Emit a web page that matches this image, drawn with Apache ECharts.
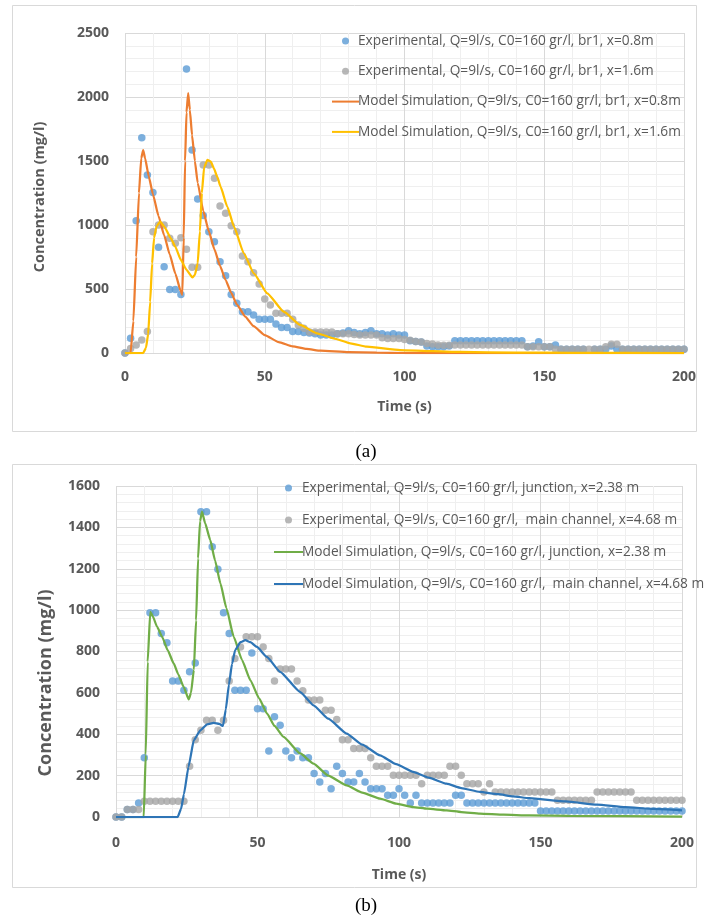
<!DOCTYPE html>
<html>
<head>
<meta charset="utf-8">
<script src="https://cdn.jsdelivr.net/npm/echarts@6/dist/echarts.min.js"></script>
<style>
  html, body { margin: 0; padding: 0; background: #fff; }
  #myChart { width: 707px; height: 920px; }
</style>
</head>
<body>
<div id="myChart"></div>
<script>
// sample times of the measurements (s), same for all four experimental series
const sampleTimes = [
  0, 2, 4, 6, 8, 10, 12, 14, 16, 18,
  20, 22, 24, 26, 28, 30, 32, 34, 36, 38,
  40, 42, 44, 46, 48, 50, 52, 54, 56, 58,
  60, 62, 64, 66, 68, 70, 72, 74, 76, 78,
  80, 82, 84, 86, 88, 90, 92, 94, 96, 98,
  100, 102, 104, 106, 108, 110, 112, 114, 116, 118,
  120, 122, 124, 126, 128, 130, 132, 134, 136, 138,
  140, 142, 144, 146, 148, 150, 152, 154, 156, 158,
  160, 162, 164, 166, 168, 170, 172, 174, 176, 178,
  180, 182, 184, 186, 188, 190, 192, 194, 196, 198,
  200
]

// (a) experimental, br1, x=0.8m
const expBr1X08 = [
  0, 115, 1034, 1682, 1390, 1253, 826, 674, 497, 497,
  458, 2219, 1586, 1203, 1075, 948, 870, 713, 604, 458,
  388, 323, 323, 297, 263, 263, 263, 227, 200, 200,
  167, 167, 160, 156, 150, 140, 140, 140, 150, 156,
  174, 160, 150, 160, 174, 150, 150, 140, 150, 140,
  140, 95, 90, 86, 55, 49, 49, 49, 55, 96,
  96, 96, 96, 96, 96, 96, 96, 96, 96, 96,
  96, 96, 49, 55, 88, 49, 49, 62, 29, 29,
  29, 29, 29, -16, 29, 29, 29, 55, 29, 29,
  29, 29, 29, 29, 29, 29, 29, 29, 29, 29,
  29
]
// (a) experimental, br1, x=1.6m
const expBr1X16 = [
  0, 36, 62, 101, 167, 948, 1000, 1000, 896, 857,
  901, 810, 669, 669, 1469, 1469, 1365, 1148, 1091, 995,
  948, 758, 713, 627, 539, 422, 375, 310, 310, 310,
  263, 219, 193, 164, 164, 164, 164, 164, 150, 150,
  150, 145, 140, 140, 140, 140, 120, 114, 114, 114,
  105, 100, 90, 86, 75, 70, 62, 60, 60, 62,
  62, 62, 62, 62, 62, 62, 62, 62, 62, 62,
  62, 62, 49, 49, 49, 49, 49, 29, 29, 29,
  29, 29, 29, 29, 29, 29, 49, 68, 68, 29,
  29, 29, 29, 29, 29, 29, 29, 29, 29, 29,
  29
]
// (a) model curves [t, c]
const modelBr1X08 = [
  [0, 0], [2, 0], [3, 250], [4, 750], [5, 1250], [5.8, 1520], [6.5, 1585], [7.2, 1520],
  [8.5, 1380], [10, 1240], [12, 1070], [14, 920], [16, 770], [18, 620], [20, 480], [20.5, 455],
  [21, 900], [21.5, 1500], [22, 1880], [22.6, 2030], [23.2, 1900], [24, 1700], [25, 1500],
  [26, 1330], [28, 1110], [30, 950], [32, 810], [34, 680], [36, 570], [38, 470], [40, 380],
  [43, 285], [46, 210], [50, 140], [55, 85], [60, 52], [65, 32], [70, 18], [80, 6], [90, 2],
  [100, 0], [200, 0]
]
const modelBr1X16 = [
  [0, 0], [6.5, 0], [7.5, 40], [8.3, 150], [9, 400], [9.7, 700], [10.4, 900], [11.3, 990],
  [12.6, 1026], [14, 990], [16.4, 896], [18, 830], [20, 727], [22, 650], [24.1, 591], [25, 610],
  [26, 700], [26.8, 950], [27.5, 1250], [28.3, 1450], [29.5, 1508], [30.7, 1495], [31.8, 1443],
  [33, 1377], [34.2, 1299], [36.6, 1143], [39, 987], [42.5, 779], [46.1, 622], [50.9, 466],
  [56.8, 323], [62.7, 219], [68.7, 154], [74.6, 115], [80.6, 76], [86.5, 49], [98.4, 23],
  [110, 14], [120, 8], [140, 3], [160, 1], [200, 0]
]

// (b) experimental, junction x=2.38 m
const expJunction = [
  0, 0, 36, 36, 68, 287, 987, 987, 887, 842,
  657, 657, 613, 702, 745, 1476, 1476, 1306, 1197, 987,
  887, 613, 613, 613, 793, 523, 523, 319, 484, 444,
  319, 287, 319, 287, 287, 210, 169, 210, 137, 245,
  210, 169, 169, 210, 169, 137, 137, 137, 105, 105,
  137, 105, 68, 105, 68, 68, 68, 68, 68, 68,
  105, 105, 68, 68, 68, 68, 68, 68, 68, 68,
  68, 68, 68, 68, 68, 29, 29, 29, 29, 29,
  29, 29, 29, 29, 29, 29, 29, 29, 29, 29,
  29, 29, 29, 29, 29, 29, 29, 29, 29, 29,
  29
]
// (b) experimental, main channel x=4.68 m
const expMainChannel = [
  0, 0, 36, 36, 36, 76, 76, 76, 76, 76,
  76, 76, 76, 245, 374, 419, 468, 468, 419, 468,
  658, 766, 822, 871, 871, 871, 822, 766, 658, 715,
  715, 715, 658, 610, 565, 565, 565, 516, 516, 471,
  374, 374, 331, 331, 331, 287, 245, 245, 245, 202,
  202, 202, 202, 202, 161, 202, 202, 202, 202, 245,
  245, 202, 161, 161, 161, 121, 161, 121, 121, 121,
  121, 121, 121, 121, 121, 121, 121, 121, 81, 81,
  81, 81, 81, 81, 81, 121, 121, 121, 121, 121,
  121, 121, 81, 81, 81, 81, 81, 81, 81, 81,
  81
]
// (b) model curves [t, c]
const modelJunction = [
  [0, 0], [9.8, 0], [10.5, 300], [11.2, 750], [12.1, 992], [13, 970], [14.5, 920], [16.3, 871],
  [18.3, 805], [20.4, 742], [22, 690], [23.9, 629], [25.7, 568], [26.5, 600], [27.5, 710],
  [28.3, 950], [29, 1250], [29.7, 1430], [30.4, 1476], [31.5, 1420], [33.3, 1339], [35, 1240],
  [36.9, 1129], [39, 1010], [41.6, 871], [44.5, 760], [47.5, 661], [50.5, 575], [53.4, 500],
  [56, 440], [59.2, 387], [65.1, 307], [69.8, 258], [75, 200], [81.5, 153], [87, 118],
  [93.3, 89], [99, 65], [105, 48], [110, 40], [116.8, 32], [122, 24], [128.6, 16], [137, 11],
  [146, 8], [160, 5], [200, 2]
]
const modelMainChannel = [
  [0, 0], [21.8, 0], [23, 40], [24, 110], [25.6, 242], [27.5, 371], [29.8, 419], [32.2, 448],
  [34.5, 455], [36.5, 450], [37.8, 440], [38.8, 520], [39.9, 640], [41, 740], [42.1, 807],
  [44, 845], [45.7, 855], [47.5, 845], [49.8, 822], [53.3, 774], [58, 702], [65, 605],
  [69.8, 540], [75, 475], [81.5, 403], [87, 350], [93.3, 298], [99, 255], [105, 218],
  [110.5, 190], [116.8, 161], [122, 140], [128.6, 121], [135, 110], [140.3, 100], [146, 91],
  [159, 75], [170, 60], [180, 48], [190, 39], [200, 32]
]

const namesA = [
  'Experimental, Q=9l/s, C0=160 gr/l, br1, x=0.8m',
  'Experimental, Q=9l/s, C0=160 gr/l, br1, x=1.6m',
  'Model Simulation, Q=9l/s, C0=160 gr/l, br1, x=0.8m',
  'Model Simulation, Q=9l/s, C0=160 gr/l, br1, x=1.6m'
]
const namesB = [
  'Experimental, Q=9l/s, C0=160 gr/l, junction, x=2.38 m',
  'Experimental, Q=9l/s, C0=160 gr/l,  main channel, x=4.68 m',
  'Model Simulation, Q=9l/s, C0=160 gr/l, junction, x=2.38 m',
  'Model Simulation, Q=9l/s, C0=160 gr/l,  main channel, x=4.68 m'
]

const FONT = 'Open Sans'
const TXT = '#595959'

function pairs(values) {
  return values.map((v, i) => [sampleTimes[i], v])
}

function xAxisOf(grid, gap, labelGap) {
  return {
    gridIndex: grid,
    type: 'value',
    min: 0,
    max: 200,
    interval: 50,
    name: 'Time (s)',
    nameLocation: 'middle',
    nameGap: gap,
    nameTextStyle: { fontFamily: FONT, fontWeight: 'bold', fontSize: 14, color: TXT },
    axisLine: { show: true, lineStyle: { color: '#d9d9d9' } },
    axisTick: { show: false },
    axisLabel: { fontFamily: FONT, fontWeight: 'bold', fontSize: 14, color: TXT, margin: labelGap },
    splitLine: { show: true, lineStyle: { color: '#d9d9d9' } },
    minorTick: { show: false, splitNumber: 5 },
    minorSplitLine: { show: true, lineStyle: { color: '#efefef' } }
  }
}

function yAxisOf(grid, max, step) {
  return {
    gridIndex: grid,
    type: 'value',
    min: 0,
    max: max,
    interval: step,
    axisLine: { show: false },
    axisTick: { show: false },
    axisLabel: {
      fontFamily: FONT, fontWeight: 'bold', fontSize: 14, color: TXT, margin: 16,
      formatter: v => String(v)
    },
    splitLine: { show: true, lineStyle: { color: '#d9d9d9' } },
    minorTick: { show: false, splitNumber: 5 },
    minorSplitLine: { show: true, lineStyle: { color: '#efefef' } }
  }
}

function dots(name, grid, data, color) {
  return {
    name: name, type: 'scatter', xAxisIndex: grid, yAxisIndex: grid,
    data: data, symbol: 'circle', symbolSize: 7.5,
    itemStyle: { color: color }
  }
}

function curve(name, grid, data, color) {
  return {
    name: name, type: 'line', xAxisIndex: grid, yAxisIndex: grid,
    data: data, symbol: 'none', showSymbol: false,
    smooth: 0.15, smoothMonotone: 'x',
    lineStyle: { color: color, width: 2.25 },
    itemStyle: { color: color }
  }
}

// scatter entries show a dot, line entries only the line
function legendOf(names, left, top, width, gap) {
  return {
    orient: 'vertical',
    left: left,
    top: top,
    itemWidth: width,
    itemHeight: 7,
    itemGap: gap,
    selectedMode: false,
    textStyle: { fontFamily: FONT, fontSize: 13.7, color: TXT, padding: [0, 0, 0, -6] },
    data: [
      { name: names[0] },
      { name: names[1] },
      { name: names[2], itemStyle: { opacity: 0 } },
      { name: names[3], itemStyle: { opacity: 0 } }
    ]
  }
}

let myChart = echarts.init(document.getElementById('myChart'), null, { renderer: 'canvas' })

myChart.setOption({
  animation: false,
  backgroundColor: '#fff',
  grid: [
    { left: 125, top: 33, width: 559, height: 320 },
    { left: 116, top: 486, width: 566, height: 331 }
  ],
  xAxis: [xAxisOf(0, 47, 17), xAxisOf(1, 51, 19)],
  yAxis: [yAxisOf(0, 2500, 500), yAxisOf(1, 1600, 200)],
  legend: [
    legendOf(namesA, 326, 29, 27, 16.3),
    legendOf(namesB, 268, 476, 29, 18)
  ],
  graphic: [
    // chart area frames
    { type: 'rect', shape: { x: 12.5, y: 5.5, width: 684, height: 426 }, style: { fill: 'none', stroke: '#d9d9d9', lineWidth: 1 }, silent: true },
    { type: 'rect', shape: { x: 12.5, y: 464.5, width: 684, height: 423 }, style: { fill: 'none', stroke: '#d9d9d9', lineWidth: 1 }, silent: true },
    // y axis titles
    { type: 'text', x: 40, y: 197, rotation: Math.PI / 2,
      style: { text: 'Concentration (mg/l)', fontFamily: FONT, fontWeight: 'bold', fontSize: 14.5, fill: TXT, align: 'center', verticalAlign: 'middle' } },
    { type: 'text', x: 46, y: 683, rotation: Math.PI / 2,
      style: { text: 'Concentration (mg/l)', fontFamily: FONT, fontWeight: 'bold', fontSize: 18, fill: TXT, align: 'center', verticalAlign: 'middle' } },
    // panel captions
    { type: 'text', x: 366, y: 452,
      style: { text: '(a)', fontFamily: 'Liberation Serif', fontSize: 19, fill: '#000', align: 'center', verticalAlign: 'middle' } },
    { type: 'text', x: 366, y: 906,
      style: { text: '(b)', fontFamily: 'Liberation Serif', fontSize: 19, fill: '#000', align: 'center', verticalAlign: 'middle' } }
  ],
  series: [
    dots(namesA[0], 0, pairs(expBr1X08), '#5B9BD5'),
    dots(namesA[1], 0, pairs(expBr1X16), '#A5A5A5'),
    curve(namesA[2], 0, modelBr1X08, '#ED7D31'),
    curve(namesA[3], 0, modelBr1X16, '#FFC000'),
    dots(namesB[0], 1, pairs(expJunction), '#5B9BD5'),
    dots(namesB[1], 1, pairs(expMainChannel), '#A5A5A5'),
    curve(namesB[2], 1, modelJunction, '#70AD47'),
    curve(namesB[3], 1, modelMainChannel, '#2E75B6')
  ]
})
</script>
</body>
</html>
